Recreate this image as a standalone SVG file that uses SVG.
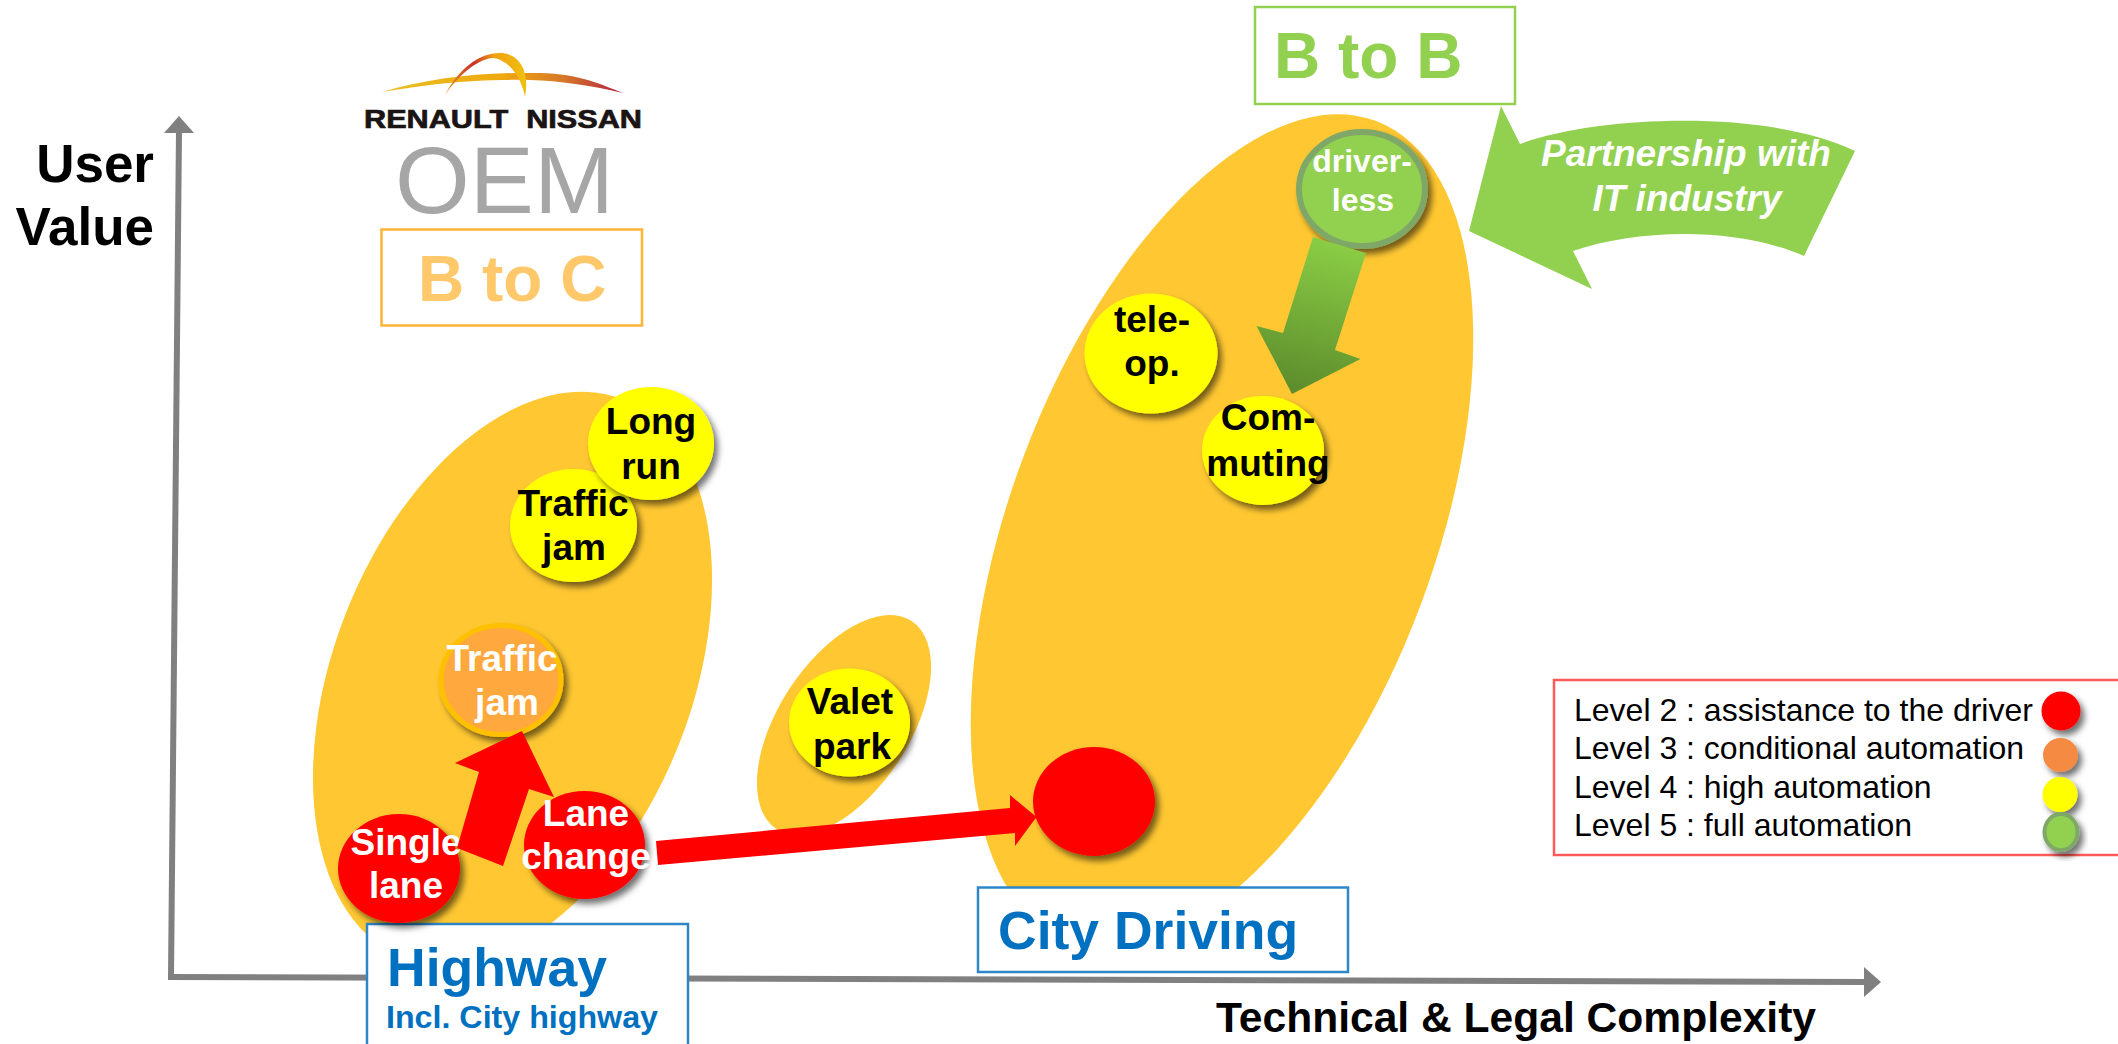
<svg xmlns="http://www.w3.org/2000/svg" width="2118" height="1044" viewBox="0 0 2118 1044">
<style>
text{font-family:"Liberation Sans",Arial,sans-serif}
.b{font-weight:700}
.c{text-anchor:middle;font-weight:700;font-size:37px}
.k{fill:#000}.w{fill:#fff}
.zone{fill:#FFC832}
.axis{stroke:#808080;stroke-width:6;fill:none}
.ahead{fill:#808080}
.red{fill:#FF0000}.yel{fill:#FFFF00}
.ora{fill:#FFA83C;stroke:#FFC000;stroke-width:5}
.grn{fill:#92D050;stroke:#7FA868;stroke-width:6}
.blue{fill:#0070C0;font-weight:700}
.bbox{fill:#fff;stroke:#2E86C8;stroke-width:2.5}
.leg{font-size:32px;fill:#000}
</style>
<defs>
<filter id="sh" x="-20%" y="-20%" width="150%" height="150%"><feGaussianBlur in="SourceAlpha" stdDeviation="3"/><feOffset dx="4" dy="5"/><feColorMatrix type="matrix" values="0 0 0 0 0 0 0 0 0 0 0 0 0 0 0 0 0 0 .55 0"/><feMerge><feMergeNode/><feMergeNode in="SourceGraphic"/></feMerge></filter>
<linearGradient id="ga" gradientUnits="userSpaceOnUse" x1="1345" y1="240" x2="1305" y2="395"><stop offset="0" stop-color="#8CCF45"/><stop offset="1" stop-color="#5C8C2C"/></linearGradient>
<linearGradient id="sw1" x1="0" x2="1" y1="0" y2="0"><stop offset="0" stop-color="#E8C020"/><stop offset=".5" stop-color="#F0A810"/><stop offset=".75" stop-color="#D87828"/><stop offset="1" stop-color="#B02040"/></linearGradient>
<linearGradient id="sw2" x1="0" x2="1" y1="0" y2="0"><stop offset="0" stop-color="#E0A020"/><stop offset=".35" stop-color="#C83028"/><stop offset=".6" stop-color="#F0A010"/><stop offset="1" stop-color="#F0C010"/></linearGradient>
</defs>

<g id="zones">
<ellipse class="zone" cx="512.5" cy="678.5" rx="179" ry="300" transform="rotate(21.5 512.5 678.5)"/>
<ellipse class="zone" cx="844" cy="725" rx="65.5" ry="124" transform="rotate(33 844 725)"/>
<ellipse class="zone" cx="1222" cy="531" rx="212" ry="438" transform="rotate(20.6 1222 531)"/>
</g>

<g id="axes">
<path class="axis" d="M171 977L179 130"/>
<polygon class="ahead" points="179,116 194,133 164,133"/>
<path class="axis" d="M168 977L1866 982"/>
<polygon class="ahead" points="1881,982 1864,967 1864,997"/>
<text class="b k" x="154" y="182" font-size="53" text-anchor="end">User</text>
<text class="b k" x="154" y="245" font-size="53" text-anchor="end">Value</text>
<text class="b k" x="1216" y="1032" font-size="42" textLength="600" lengthAdjust="spacingAndGlyphs">Technical &amp; Legal Complexity</text>
</g>

<g id="logo">
<path d="M382 92C430 78 480 72 540 73C580 74 600 84 623 93C590 85 560 81 530 80C470 79 430 84 382 92Z" fill="url(#sw1)"/>
<path d="M445 95C458 70 478 53 500 53C520 53 530 72 525 97C522 80 510 59 492 58C476 60 458 76 445 95Z" fill="url(#sw2)"/>
<text class="b" x="364" y="128" font-size="26" word-spacing="8" textLength="278" lengthAdjust="spacingAndGlyphs" fill="#1A1414" stroke="#1A1414" stroke-width=".7">RENAULT NISSAN</text>
</g>
<g id="oem"><text x="395" y="213" font-size="95" fill="#A6A6A6" textLength="219" lengthAdjust="spacingAndGlyphs">OEM</text></g>
<g id="b-to-c">
<rect x="381.500" y="229.500" width="260.500" height="96" fill="#fff" stroke="#FFB433" stroke-width="2.500"/>
<text class="b" x="418" y="301" font-size="64" fill="#FFC96B">B to C</text>
</g>
<g id="b-to-b">
<rect x="1255" y="7" width="260" height="97" fill="#fff" stroke="#92D050" stroke-width="2.500"/>
<text class="b" x="1274" y="78" font-size="64" fill="#92D050">B to B</text>
</g>
<g id="partnership">
<path d="M1501 106L1520 144C1596 116 1766 108 1855 151L1804 256C1736 226 1636 229 1573 251L1592 289L1469 231Z" fill="#92D050"/>
<text class="w b" x="1686" y="166" font-size="37" font-style="italic" text-anchor="middle">Partnership with</text>
<text class="w b" x="1687" y="211" font-size="37" font-style="italic" text-anchor="middle">IT industry</text>
</g>

<g id="highway">
<rect class="bbox" x="367" y="924" width="321" height="130"/>
<text class="blue" x="387" y="986" font-size="53.500">Highway</text>
<text class="blue" x="386" y="1028" font-size="31" textLength="272" lengthAdjust="spacingAndGlyphs">Incl. City highway</text>
</g>
<g id="city-driving">
<rect class="bbox" x="978" y="887.500" width="370" height="84.500"/>
<text class="blue" x="998" y="949" font-size="53.500">City Driving</text>
</g>

<g id="single-lane">
<ellipse class="red" cx="399" cy="868.500" rx="61" ry="54.500" filter="url(#sh)"/>
<text class="c w" x="406" y="855">Single</text><text class="c w" x="406" y="898">lane</text>
</g>
<g id="lane-change">
<ellipse class="red" cx="584.500" cy="845" rx="60.500" ry="54" filter="url(#sh)"/>
<text class="c w" x="586" y="826">Lane</text><text class="c w" x="586" y="869">change</text>
</g>
<g id="traffic-jam-l3">
<ellipse class="ora" cx="501" cy="680" rx="60" ry="54.500" filter="url(#sh)"/>
<text class="c w" x="502" y="671">Traffic</text><text class="c w" x="507" y="715">jam</text>
</g>
<g id="traffic-jam-l4">
<ellipse class="yel" cx="573.500" cy="525.500" rx="63.500" ry="56.500" filter="url(#sh)"/>
<text class="c k" x="573" y="516">Traffic</text><text class="c k" x="574" y="560">jam</text>
</g>
<g id="long-run">
<ellipse class="yel" cx="651" cy="443.500" rx="63" ry="56.500" filter="url(#sh)"/>
<text class="c k" x="651" y="434">Long</text><text class="c k" x="651" y="479">run</text>
</g>
<g id="valet-park">
<ellipse class="yel" cx="849.500" cy="722.500" rx="60.500" ry="54" filter="url(#sh)"/>
<text class="c k" x="850" y="714">Valet</text><text class="c k" x="852" y="759">park</text>
</g>
<g id="city-level2">
<ellipse class="red" cx="1094" cy="801.500" rx="61" ry="54.500" filter="url(#sh)"/>
</g>
<g id="tele-op">
<ellipse class="yel" cx="1151" cy="353.500" rx="66.500" ry="60" filter="url(#sh)"/>
<text class="c k" x="1152" y="332">tele-</text><text class="c k" x="1152" y="376">op.</text>
</g>
<g id="commuting">
<ellipse class="yel" cx="1263" cy="450.500" rx="61" ry="54.500" filter="url(#sh)"/>
<text class="c k" x="1268" y="430">Com-</text><text class="c k" x="1268" y="476">muting</text>
</g>
<g id="driverless">
<ellipse class="grn" cx="1362" cy="189" rx="63" ry="57" filter="url(#sh)"/>
<text class="w b" x="1362" y="172" font-size="32" text-anchor="middle">driver-</text>
<text class="w b" x="1363" y="211" font-size="32" text-anchor="middle">less</text>
</g>

<g id="legend">
<rect x="1554" y="680" width="600" height="175" fill="none" stroke="#FF5A5A" stroke-width="2.500"/>
<text class="leg" x="1574" y="721">Level 2 : assistance to the driver</text>
<text class="leg" x="1574" y="759">Level 3 : conditional automation</text>
<text class="leg" x="1574" y="798">Level 4 : high automation</text>
<text class="leg" x="1574" y="836">Level 5 : full automation</text>
<ellipse class="red" cx="2061" cy="711" rx="19.500" ry="19.500" filter="url(#sh)"/>
<ellipse cx="2060.500" cy="755" rx="17.500" ry="17" fill="#F58A42" filter="url(#sh)"/>
<ellipse class="yel" cx="2060" cy="794.500" rx="17.500" ry="17.500" filter="url(#sh)"/>
<ellipse cx="2061" cy="832" rx="16.500" ry="18" fill="#92D050" stroke="#7FA868" stroke-width="4" filter="url(#sh)"/>
</g>

<g id="connectors">
<polygon class="red" points="457,848 503,866 529,789 554,797 522,731 455,763 479,772"/>
<polygon class="red" points="656,841 658,865 1015,833 1015,846 1036.500,817 1010,795 1010,808"/>
<polygon fill="url(#ga)" points="1313,237 1366,253 1335,350 1360.500,359 1292,394 1256.500,326 1283,333"/>
</g>
</svg>
